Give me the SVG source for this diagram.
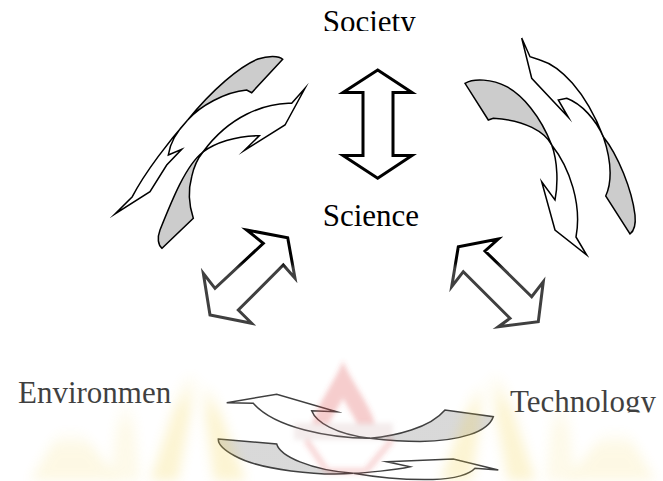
<svg xmlns="http://www.w3.org/2000/svg" width="663" height="481" viewBox="0 0 663 481">
<defs>
<style>
.lbl{font-family:"Liberation Serif","Times New Roman",serif;font-size:31px;fill:#000}
.curve{stroke:#000;stroke-width:1.5;stroke-linejoin:miter;stroke-miterlimit:10}
.back{fill:#cccccc}
.front{fill:#ffffff}
.dbl{fill:#ffffff;stroke:#000;stroke-width:3;stroke-linejoin:miter;stroke-miterlimit:10}
.yel{fill:#f3d34a;opacity:0.22}
.red{fill:#e04848;opacity:0.28}
</style>
<clipPath id="clipSociety"><rect x="300" y="0" width="140" height="31"/></clipPath>
<clipPath id="clipTech"><rect x="490" y="370" width="173" height="42.5"/></clipPath>
<linearGradient id="veil" x1="0" y1="0" x2="0" y2="1">
<stop offset="0" stop-color="#fff" stop-opacity="0"/>
<stop offset="0.03" stop-color="#fff" stop-opacity="0.25"/>
<stop offset="1" stop-color="#fff" stop-opacity="0.25"/>
</linearGradient>
<linearGradient id="yfade" x1="0" y1="0" x2="0" y2="1">
<stop offset="0" stop-color="#f3d34a" stop-opacity="0"/>
<stop offset="0.35" stop-color="#f3d34a" stop-opacity="1"/>
<stop offset="1" stop-color="#f3d34a" stop-opacity="1"/>
</linearGradient>
<filter id="soft" x="-50%" y="-30%" width="200%" height="160%"><feGaussianBlur stdDeviation="6"/></filter>
<filter id="soft2" x="-30%" y="-30%" width="160%" height="160%"><feGaussianBlur stdDeviation="2.5"/></filter>
</defs>
<rect x="0" y="0" width="663" height="481" fill="#ffffff"/>

<g id="nodes">
<g id="node-society"><text class="lbl" x="322.7" y="32" clip-path="url(#clipSociety)">Society</text></g>
<g id="node-science"><text class="lbl" x="322.7" y="226">Science</text></g>
<g id="node-environment"><text class="lbl" x="18" y="403.3">Environmen</text></g>
<g id="node-technology"><text class="lbl" x="510" y="411.5" clip-path="url(#clipTech)">Technology</text></g>
</g>

<g id="connectors">
<!-- Society <-> Science -->
<path class="dbl" d="M377.7,70 L412,92.5 L393,92.5 L393,155.5 L412,155.5 L377.7,178.3 L343,155.5 L363,155.5 L363,92.5 L343,92.5 Z"/>
<!-- Science <-> Environment -->
<path class="dbl" d="M246.7,230 L287.7,237.7 L295,278.3 L283.3,265 L238.3,310 L251.7,323.3 L210,315 L203.3,273.3 L215,288.3 L263.3,243.3 Z"/>
<!-- Science <-> Technology -->
<path class="dbl" d="M498.3,239 L458.3,246.7 L451.7,286.7 L463.3,271.7 L510,318.3 L498.3,326.7 L538.3,321.7 L543.3,281.7 L531.7,296.7 L485,251 Z"/>

<!-- Society <-> Environment curved pair -->
<path class="curve back" d="M282.7,59.3 C279,55.5 268,55.5 258,59 C240,66 212,90 187.7,120 C200,106 225,92 246.7,90 L251.7,92.7 Z"/>
<path class="curve front" d="M187.7,120 C170,140 145,172 132.3,196.7 L115,214 L150,191.7 L166.7,165 L181.7,149.3 L168.3,155 C170,143 177,131 187.7,120 Z"/>
<path class="curve front" d="M305,88.3 L291.7,103.3 L288.3,103.3 C265,104 230,115 203,152 C215,143 235,136 259.3,135.7 L244,150.7 L285,125 Z"/>
<path class="curve back" d="M203,152 C186,165 172,200 160,230 C157,238 158,245 162,248.3 L193.3,218.3 C189,205 188,190 191.7,176.7 C194,166 198,158 203,152 Z"/>

<!-- Society <-> Technology curved pair -->
<path class="curve back" d="M465,83.3 C474,78 492,79 506.7,86.7 C522,95 540,115 551.7,145 C545,132 525,120 493.3,118.3 L488.3,120 Z"/>
<path class="curve front" d="M551.7,145 C570,168 582,205 576,237 L586.7,255 L555,230 L541.7,181.7 L555,200 C558,185 558,162 551.7,145 Z"/>
<path class="curve front" d="M521.7,38 L530,56.7 L540,60 C560,66 585,90 603.3,136.7 C596,120 582,104 566.7,98.3 L558.3,100 L568.3,117.3 L531.7,78.3 Z"/>
<path class="curve back" d="M603.3,136.7 C618,155 632,190 635,215 C636,225 634,231 630,234 L605.7,196 C611,185 613,165 603.3,136.7 Z"/>

<!-- Environment <-> Technology curved pair -->
<path class="curve front" d="M226.7,402.7 L276.7,394.3 L336.7,411.7 L311.7,410.7 C316,422 335,434 370,438.3 C330,438 275,428 253.3,403.3 Z"/>
<path class="curve back" d="M370,438.3 C395,436 430,428 445,410 L493.3,416.7 C488,432 460,441 420,441.5 C400,441.5 385,440 370,438.3 Z"/>
<path class="curve back" d="M218.3,439 L276.7,444 C280,456 310,470 353.3,473.3 C320,476 260,470 235,456 C224,450 218,444 218.3,439 Z"/>
<path class="curve front" d="M353.3,473.3 C365,473 395,470 410,466.7 L386.7,461.7 L453.3,459 L498.3,470 L475,468.3 C470,474 455,479 433,479.5 C410,480 380,478 353.3,473.3 Z"/>
</g>

<g id="watermark">
<rect x="0" y="262" width="663" height="219" fill="url(#veil)"/>
<g filter="url(#soft)" opacity="0.24">
<path fill="url(#yfade)" d="M186,372 L198,372 L178,481 L150,481 Z"/>
<path fill="url(#yfade)" d="M200,380 L214,395 L246,481 L214,481 Z"/>
<path fill="url(#yfade)" d="M500,372 L488,372 L508,481 L536,481 Z"/>
<path fill="url(#yfade)" d="M486,380 L472,395 L440,481 L472,481 Z"/>
<path fill="url(#yfade)" opacity="0.6" d="M60,430 L80,430 L120,481 L30,481 Z"/>
<path fill="url(#yfade)" opacity="0.6" d="M626,430 L606,430 L566,481 L656,481 Z"/>
<path fill="url(#yfade)" opacity="0.5" d="M120,400 L132,400 L140,481 L110,481 Z"/>
<path fill="url(#yfade)" opacity="0.5" d="M566,400 L554,400 L546,481 L576,481 Z"/>
</g>
<g filter="url(#soft2)">
<path class="red" fill-rule="evenodd" d="M343,361 C336,380 318,402 312,424 L375,424 C369,402 350,380 343,361 Z M343,398 C338,408 331,418 329,424 L357,424 C355,418 348,408 343,398 Z"/>
<path fill="#c8a0a0" opacity="0.2" d="M294,423 L393,423 L393,440 L294,440 Z"/>
<path fill="none" stroke="#e04848" stroke-width="6" opacity="0.22" d="M306,440 L327,471 M392,440 L366,471 M327,471 L366,471"/>
</g>
</g>
</svg>
